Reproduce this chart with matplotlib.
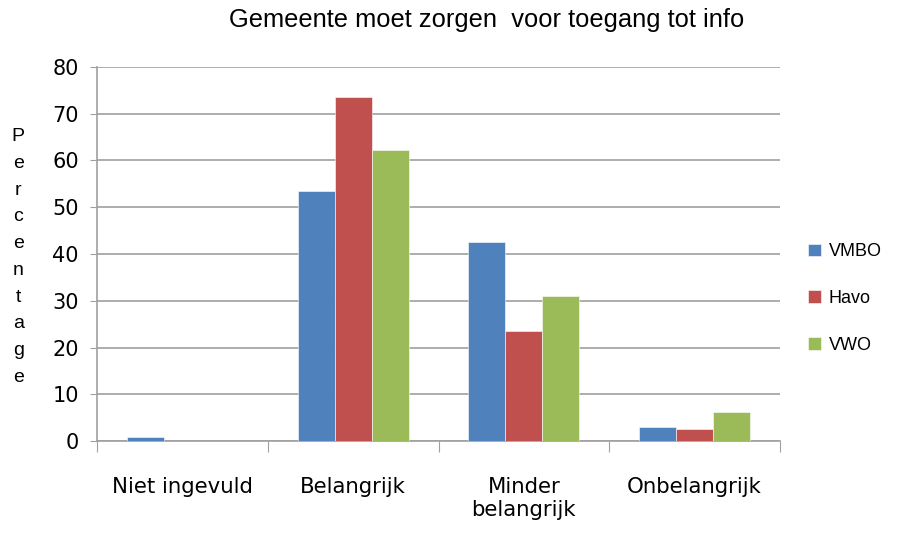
import numpy as np
import matplotlib.pyplot as plt

categories = ['Niet ingevuld', 'Belangrijk', 'Minder\nbelangrijk', 'Onbelangrijk']
series = ['VMBO', 'Havo', 'VWO']
vmbo = [0.9, 53.5, 42.5, 2.9]
havo = [0.0, 73.5, 23.5, 2.6]
vwo = [0.0, 62.2, 31.1, 6.2]
colors = ['#4F81BD', '#C0504D', '#9BBB59']

fig = plt.figure(figsize=(9.07, 5.33), dpi=100)
ax = fig.add_axes([0.107, 0.1726, 0.753, 0.7017])

x = np.arange(len(categories))
w = 0.217
for i, (vals, name) in enumerate(zip([vmbo, havo, vwo], series)):
    ax.bar(x + (i - 1) * w, vals, w, color=colors[i], label=name, zorder=3,
           edgecolor='white', linewidth=0.4)

ax.set_xlim(-0.5, len(categories) - 0.5)
ax.set_ylim(0, 80)
ax.set_yticks(range(0, 81, 10))
ax.yaxis.grid(True, color='#A0A0A0', linewidth=1.2, zorder=0)
ax.tick_params(axis='y', labelsize=15, length=5, color='#A0A0A0', pad=8)

# category boundaries as major ticks, labels on minor ticks
ax.set_xticks(np.arange(-0.5, len(categories), 1.0))
ax.set_xticklabels([])
ax.tick_params(axis='x', which='major', length=8, color='#A0A0A0')
ax.set_xticks(x, minor=True)
ax.set_xticklabels(categories, minor=True, fontsize=15.3)
ax.tick_params(axis='x', which='minor', length=0, pad=26)

for s in ['top', 'right']:
    ax.spines[s].set_visible(False)
for s in ['left', 'bottom']:
    ax.spines[s].set_color('#A0A0A0')
    ax.spines[s].set_linewidth(1.2)

fig.text(0.537, 0.962, 'Gemeente moet zorgen  voor toegang tot info',
         ha='center', va='center', fontsize=18.4, family='Liberation Sans')
fig.text(0.02, 0.518, '\n'.join('Percentage'), ha='center', va='center',
         fontsize=14, linespacing=1.75, family='Liberation Sans')

leg = ax.legend(loc='center left', bbox_to_anchor=(0.873, 0.44),
                bbox_transform=fig.transFigure, frameon=False,
                handlelength=0.7, handleheight=0.7, labelspacing=1.65,
                handletextpad=0.45, prop={'family': 'Liberation Sans', 'size': 13})

fig.savefig('out.png', dpi=100)
